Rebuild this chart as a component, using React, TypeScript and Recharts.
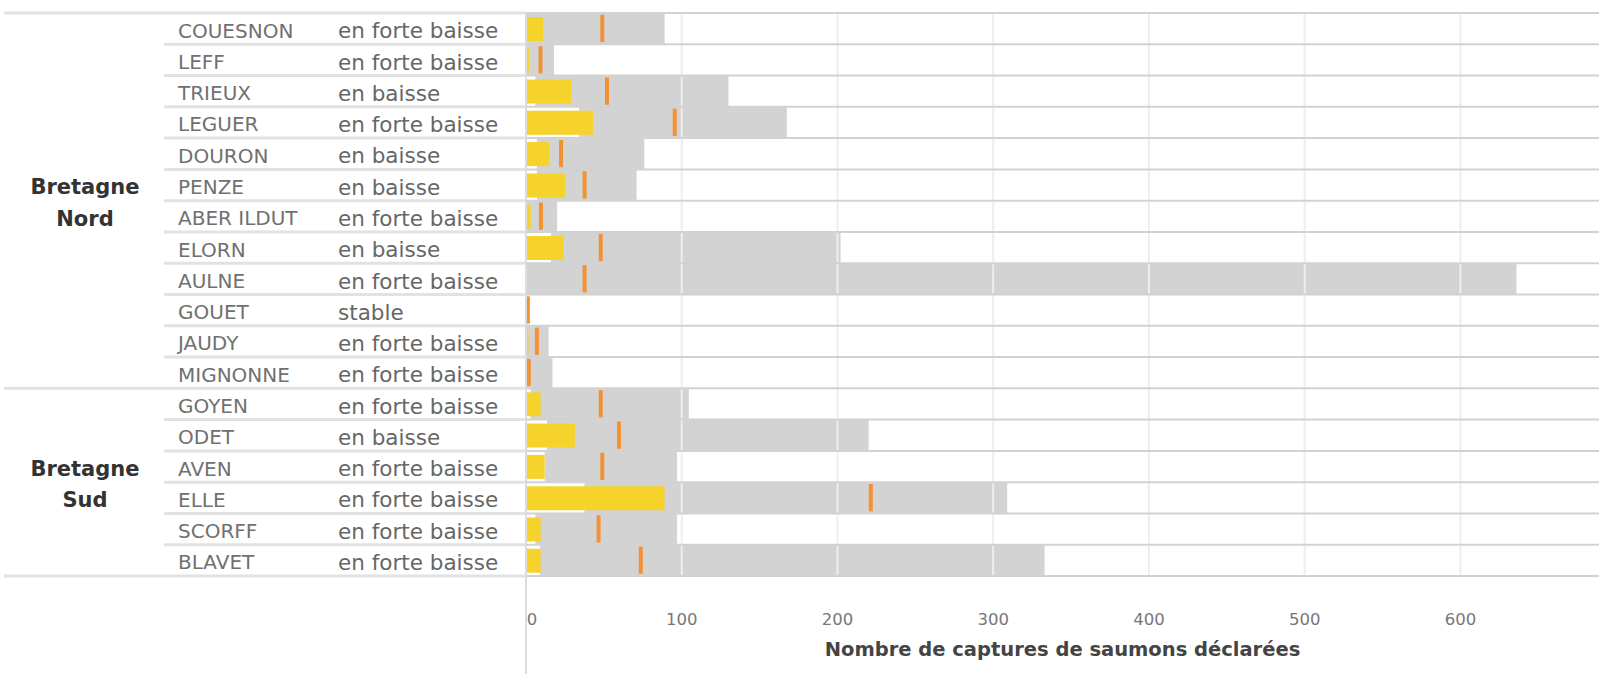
import React from 'react';
import { ComposedChart, Bar, XAxis, YAxis, ReferenceLine } from 'recharts';

const rivers = ['COUESNON', 'LEFF', 'TRIEUX', 'LEGUER', 'DOURON', 'PENZE', 'ABER ILDUT', 'ELORN', 'AULNE', 'GOUET', 'JAUDY', 'MIGNONNE', 'GOYEN', 'ODET', 'AVEN', 'ELLE', 'SCORFF', 'BLAVET'];
const regions = ['Bretagne Nord', 'Bretagne Nord', 'Bretagne Nord', 'Bretagne Nord', 'Bretagne Nord', 'Bretagne Nord', 'Bretagne Nord', 'Bretagne Nord', 'Bretagne Nord', 'Bretagne Nord', 'Bretagne Nord', 'Bretagne Nord', 'Bretagne Sud', 'Bretagne Sud', 'Bretagne Sud', 'Bretagne Sud', 'Bretagne Sud', 'Bretagne Sud'];
const trends = ['en forte baisse', 'en forte baisse', 'en baisse', 'en forte baisse', 'en baisse', 'en baisse', 'en forte baisse', 'en baisse', 'en forte baisse', 'stable', 'en forte baisse', 'en forte baisse', 'en forte baisse', 'en baisse', 'en forte baisse', 'en forte baisse', 'en forte baisse', 'en forte baisse'];
const maxValues = [89, 18, 130, 167.5, 76, 71, 20, 202, 636, 0, 14.5, 17, 104.5, 220, 97, 309, 97, 333];
const lowValues = [0, 0, 6, 34, 7, 7, 0, 16, 0, 0, 0, 0, 3, 13.5, 12, 37.5, 6, 9];
const currentValues = [11, 2, 29, 43, 15, 25, 3, 24, 0, 0, 1.6, 0, 9.4, 31.4, 12, 89, 9.4, 9.4];
const medianValues = [49, 9.3, 52, 95.5, 22.5, 37.6, 9.6, 48, 37.6, 1.2, 7, 1.8, 48, 59.7, 49, 221.4, 46.6, 73.7];
const xTicks = [0, 100, 200, 300, 400, 500, 600];
const xDomainMax = 689;
const axisTitle = 'Nombre de captures de saumons déclarées';

const data = rivers.map((river, i) => ({
  river,
  region: regions[i],
  trend: trends[i],
  max: maxValues[i],
  low: lowValues[i],
  current: currentValues[i],
  median: medianValues[i],
}));

const W = 1599;
const H = 674;
const TOP = 13;
const XAXIS_H = 98;
const YAXIS_W = 526;
const BAND = (H - TOP - XAXIS_H) / rivers.length;
const FONT = '"DejaVu Sans", Verdana, sans-serif';

const RowTick = (props: any) => {
  const { y, payload } = props;
  const i = rivers.indexOf(payload.value);
  if (i < 0) return null;
  const region = regions[i];
  const regionRows = rivers.map((_, k) => k).filter((k) => regions[k] === region);
  const pos = regionRows.indexOf(i);
  const mid = Math.floor(regionRows.length / 2) - 1;
  const isLastOfRegion = pos === regionRows.length - 1;
  const words = region.split(' ');
  const half = BAND / 2;
  return (
    <g>
      {i === 0 && (
        <g>
          <line x1={4} x2={YAXIS_W} y1={y - half} y2={y - half} stroke="#e2e2e2" strokeWidth={3} />
          <line x1={YAXIS_W} x2={W} y1={y - half} y2={y - half} stroke="#d2d2d2" strokeWidth={2} />
        </g>
      )}
      <line x1={isLastOfRegion ? 4 : 164} x2={YAXIS_W} y1={y + half} y2={y + half} stroke="#e2e2e2" strokeWidth={3} />
      <line x1={YAXIS_W} x2={W} y1={y + half} y2={y + half} stroke="#d2d2d2" strokeWidth={2} />
      <text x={178} y={y} dy="0.45em" fill="#707070" fontSize={20} fontFamily={FONT}>{rivers[i]}</text>
      <text x={338} y={y} dy="0.45em" fill="#666666" fontSize={21.5} fontFamily={FONT}>{trends[i]}</text>
      {pos === mid && (
        <text x={85} y={y} dy="0.45em" textAnchor="middle" fill="#333333" fontSize={21} fontWeight="bold" fontFamily={FONT}>{words[0]}</text>
      )}
      {pos === mid + 1 && (
        <text x={85} y={y} dy="0.45em" textAnchor="middle" fill="#333333" fontSize={21} fontWeight="bold" fontFamily={FONT}>{words[1]}</text>
      )}
    </g>
  );
};

const ValueTick = (props: any) => {
  const { x, payload } = props;
  const plotBottom = H - XAXIS_H;
  return (
    <g>
      {payload.value === 0 && (
        <line x1={x} x2={x} y1={plotBottom} y2={H} stroke="#dcdcdc" strokeWidth={2} />
      )}
      <text x={payload.value === 0 ? x + 6 : x} y={plotBottom + 49} textAnchor="middle" fill="#777777" fontSize={16.5} fontFamily={FONT}>
        {payload.value}
      </text>
    </g>
  );
};

const MarkerShape = (props: any) => {
  const { x, y, width, height } = props;
  if (x == null || width == null) return null;
  const h = height * 0.88;
  return <rect x={x + width - 2} y={y + (height - h) / 2} width={4} height={h} fill="#f39233" />;
};

const TitleLabel = (props: any) => {
  const vb = props.viewBox || {};
  return (
    <text x={vb.x + vb.width / 2} y={vb.y + 80} textAnchor="middle" fill="#444444" fontSize={19.5} fontWeight="bold" fontFamily={FONT}>
      {axisTitle}
    </text>
  );
};

export default function App() {
  return (
    <div style={{ position: 'fixed', left: 0, top: 0, background: '#ffffff' }}>
      <ComposedChart
        width={W}
        height={H}
        data={data}
        layout="vertical"
        margin={{ top: TOP, right: 0, bottom: 0, left: 0 }}
        barCategoryGap={0}
        barGap={0}
      >
        <XAxis
          type="number"
          domain={[0, xDomainMax]}
          ticks={xTicks}
          height={XAXIS_H}
          axisLine={false}
          tickLine={false}
          tick={<ValueTick />}
          label={<TitleLabel />}
          allowDataOverflow
        />
        <YAxis
          yAxisId="rows"
          type="category"
          dataKey="river"
          width={YAXIS_W}
          interval={0}
          tickLine={false}
          axisLine={{ stroke: '#dcdcdc', strokeWidth: 2 }}
          tick={<RowTick />}
        />
        <YAxis yAxisId="white" type="category" dataKey="river" hide width={0} axisLine={false} tick={false} tickLine={false} />
        <YAxis yAxisId="yellow" type="category" dataKey="river" hide width={0} axisLine={false} tick={false} tickLine={false} />
        <YAxis yAxisId="marker" type="category" dataKey="river" hide width={0} axisLine={false} tick={false} tickLine={false} />
        <Bar yAxisId="rows" dataKey="max" fill="#d3d3d3" isAnimationActive={false} />
        <Bar yAxisId="white" dataKey="low" fill="#ffffff" isAnimationActive={false} />
        <Bar yAxisId="yellow" dataKey="current" fill="#f6d32b" barSize={24} isAnimationActive={false} />
        <Bar yAxisId="marker" dataKey="median" fill="#f39233" shape={<MarkerShape />} isAnimationActive={false} />
        {xTicks.filter((t) => t > 0).map((t) => (
          <ReferenceLine key={t} yAxisId="rows" x={t} stroke="#eeeeee" strokeWidth={2} />
        ))}
      </ComposedChart>
    </div>
  );
}
